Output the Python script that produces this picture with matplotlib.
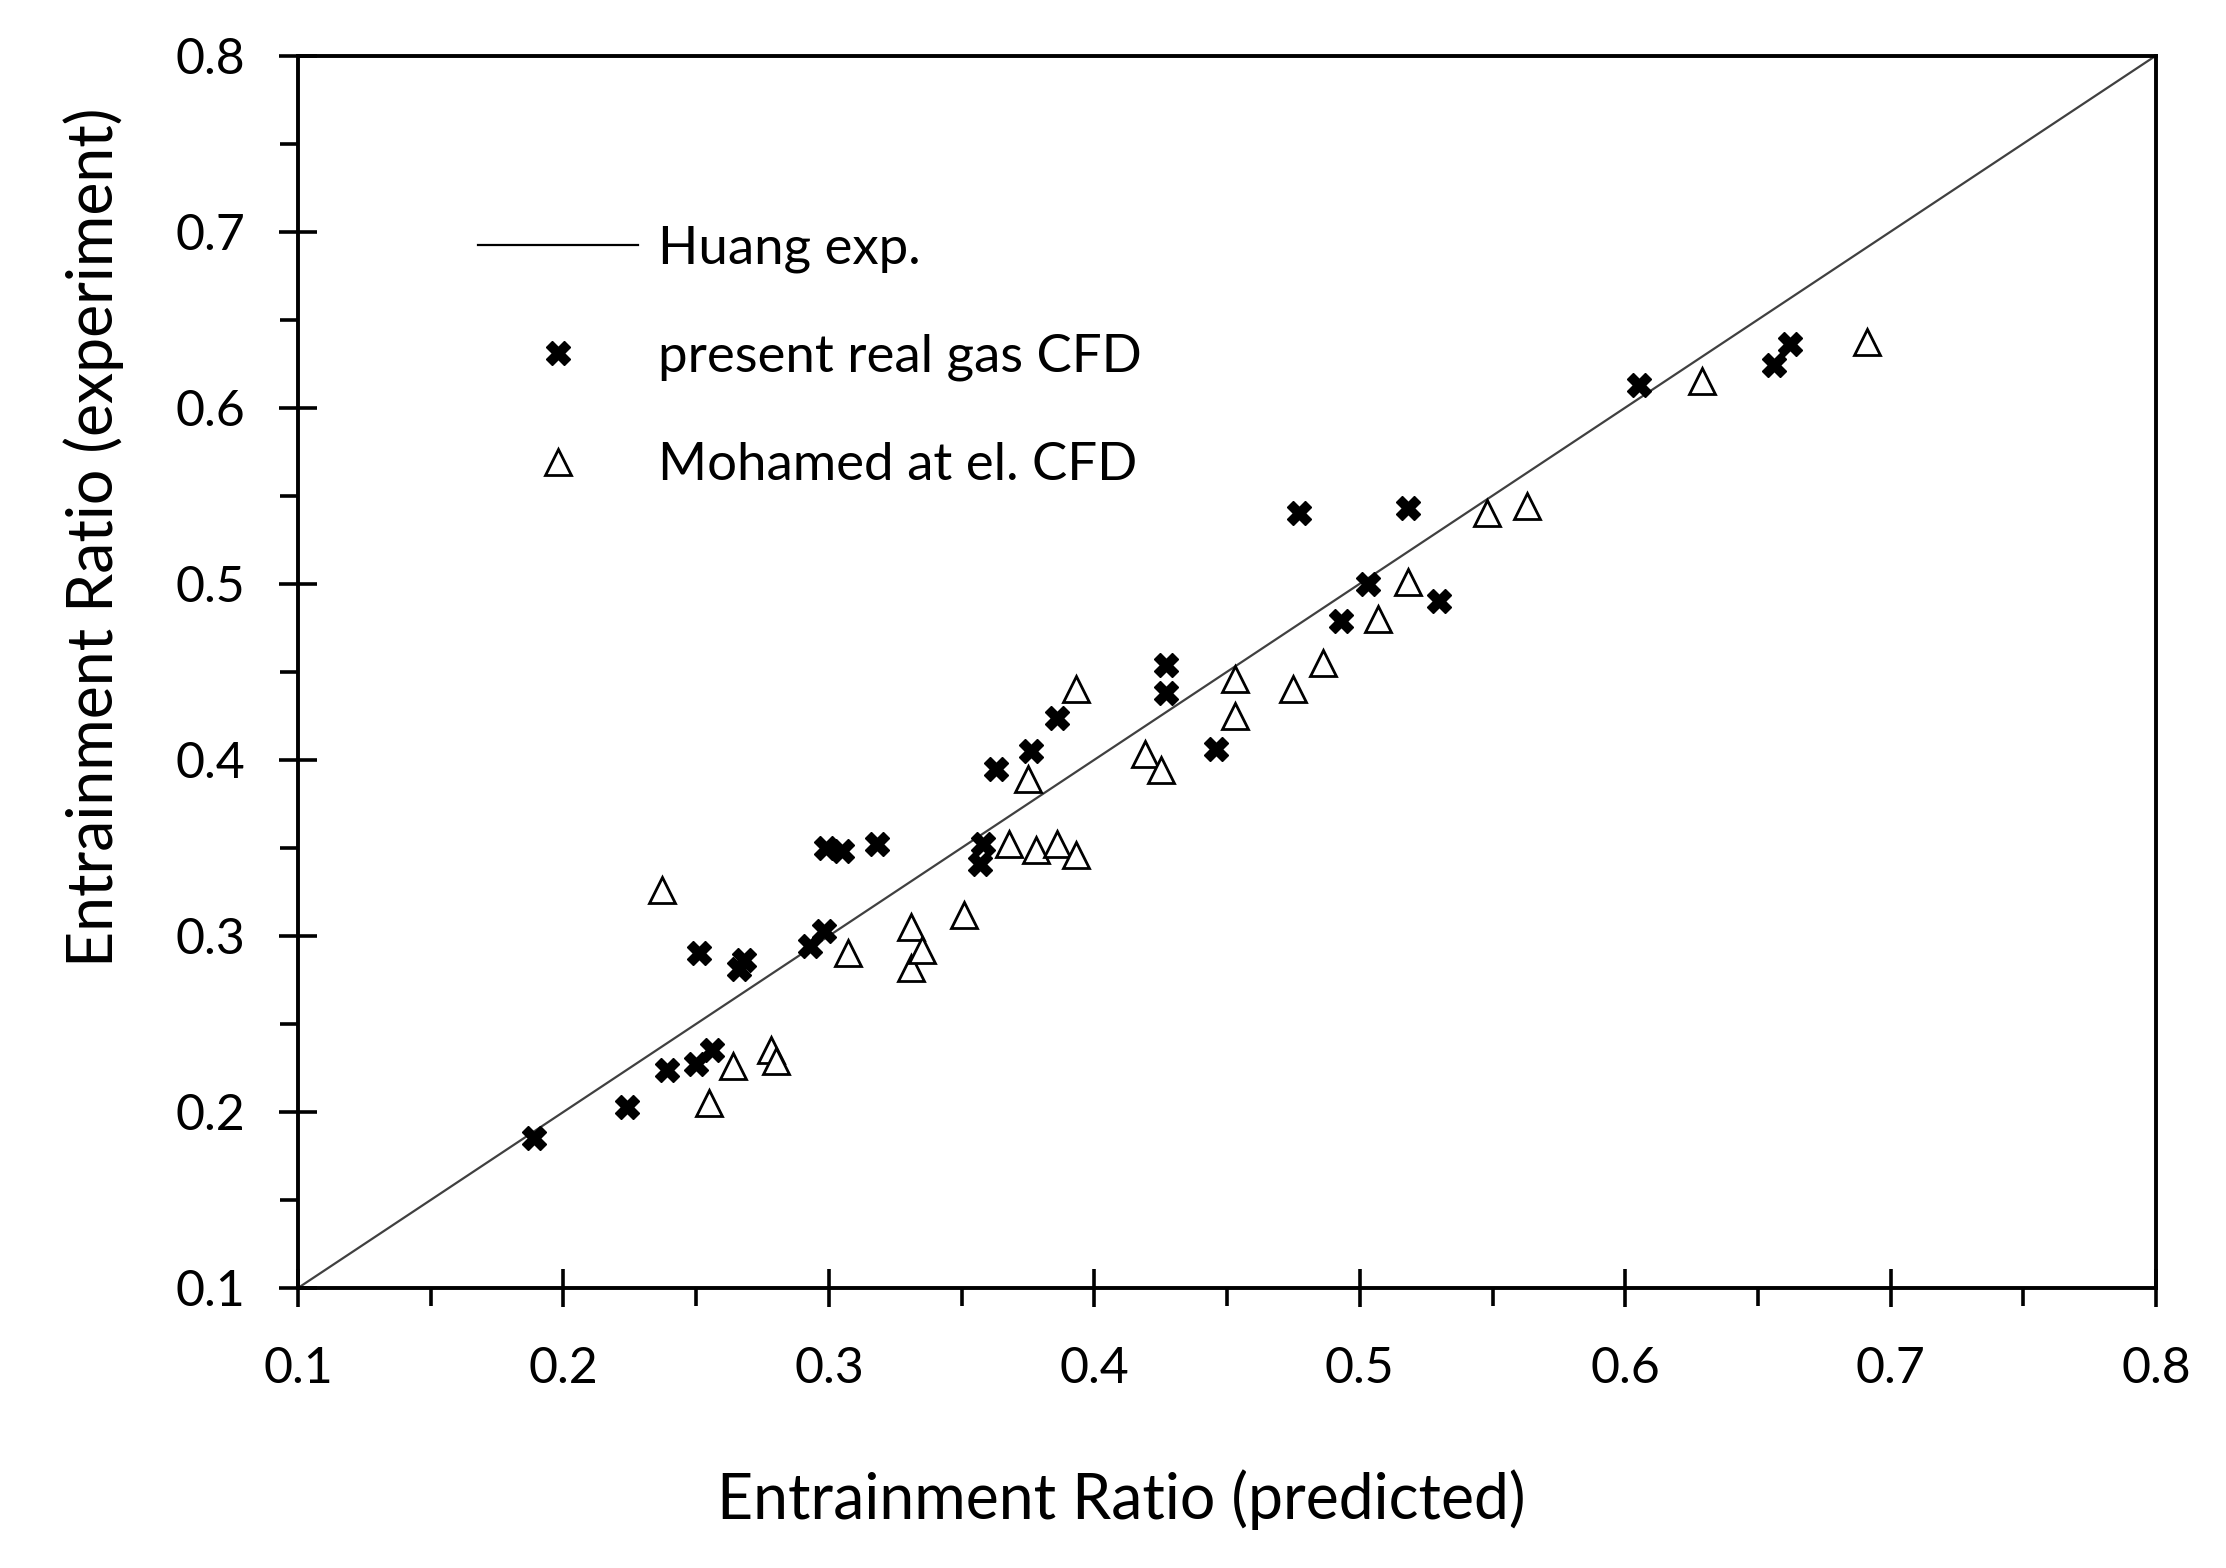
import numpy as np
import matplotlib.pyplot as plt
from matplotlib.ticker import MultipleLocator, FormatStrFormatter

plt.rcParams['font.family'] = ['Lato', 'DejaVu Sans']

# perfect agreement line (Huang exp.)
line_x = [0.1, 0.8]
line_y = [0.1, 0.8]

# present real gas CFD
real_gas_pred = [0.189, 0.224, 0.239, 0.250, 0.256, 0.251, 0.266, 0.268, 0.293, 0.298,
                 0.299, 0.305, 0.318, 0.357, 0.358, 0.363, 0.376, 0.386, 0.427, 0.427,
                 0.446, 0.477, 0.493, 0.503, 0.518, 0.530, 0.605, 0.656, 0.662]
real_gas_exp = [0.185, 0.203, 0.224, 0.227, 0.235, 0.290, 0.281, 0.286, 0.294, 0.303,
                0.350, 0.348, 0.352, 0.341, 0.352, 0.395, 0.405, 0.424, 0.454, 0.438,
                0.406, 0.540, 0.479, 0.500, 0.543, 0.490, 0.613, 0.624, 0.636]

# Mohamed at el. CFD
mohamed_pred = [0.237, 0.255, 0.264, 0.278, 0.280, 0.307, 0.331, 0.331, 0.335, 0.351,
                0.368, 0.375, 0.378, 0.386, 0.393, 0.393, 0.419, 0.425, 0.453, 0.453,
                0.475, 0.486, 0.507, 0.518, 0.548, 0.563, 0.629, 0.691]
mohamed_exp = [0.326, 0.205, 0.226, 0.235, 0.229, 0.290, 0.305, 0.282, 0.292, 0.312,
               0.352, 0.389, 0.349, 0.352, 0.346, 0.440, 0.403, 0.394, 0.446, 0.425,
               0.440, 0.455, 0.480, 0.501, 0.540, 0.544, 0.615, 0.637]

fig = plt.figure(figsize=(22.26, 15.68), dpi=100)
ax = fig.add_axes([0.1339, 0.1786, 0.8347, 0.786])

ax.plot(line_x, line_y, color='#404040', lw=1.6, label='Huang exp.')
ax.plot(real_gas_pred, real_gas_exp, ls='none', marker='X', ms=17, color='black',
        mec='black', label='present real gas CFD')
ax.plot(mohamed_pred, mohamed_exp, ls='none', marker='^', ms=19, mfc='white',
        mec='black', mew=2.0, label='Mohamed at el. CFD')

ax.set_xlim(0.1, 0.8)
ax.set_ylim(0.1, 0.8)
ax.xaxis.set_major_locator(MultipleLocator(0.1))
ax.yaxis.set_major_locator(MultipleLocator(0.1))
ax.xaxis.set_minor_locator(MultipleLocator(0.05))
ax.yaxis.set_minor_locator(MultipleLocator(0.05))
ax.xaxis.set_major_formatter(FormatStrFormatter('%.1f'))
ax.yaxis.set_major_formatter(FormatStrFormatter('%.1f'))

for s in ax.spines.values():
    s.set_linewidth(2.8)
ax.tick_params(which='major', direction='inout', length=28, width=2.6,
               labelsize=36, pad=24, top=False, right=False)
ax.tick_params(which='minor', direction='out', length=13, width=2.6,
               top=False, right=False)
ax.tick_params(axis='x', which='major', pad=28)

ax.set_xlabel('Entrainment Ratio (predicted)', fontsize=45, va='center')
ax.set_ylabel('Entrainment Ratio (experiment)', fontsize=45, va='center')
ax.xaxis.set_label_coords(0.443, -0.172)
ax.yaxis.set_label_coords(-0.110, 0.609)

leg = ax.legend(loc='upper left', bbox_to_anchor=(0.097, 0.862), frameon=False,
                fontsize=38, handlelength=3.03, handletextpad=0.38, labelspacing=1.15,
                borderpad=0, borderaxespad=0)
leg.legend_handles[0].set_color('black')

plt.savefig('out.png', dpi=100)
